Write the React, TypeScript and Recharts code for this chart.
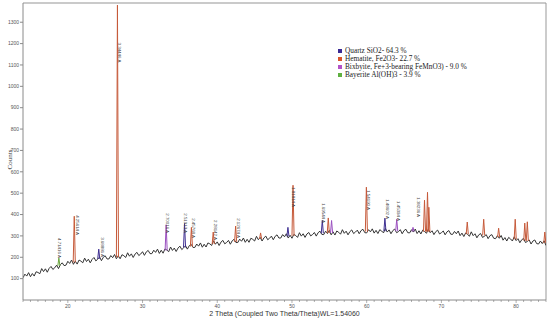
import React from 'react';
import { ComposedChart, Line, Scatter, XAxis, YAxis, ReferenceLine } from 'recharts';

// raw scan: start angle, step, counts (four steps per degree)
const scanStart = 14;
const scanStep = 0.25;
const scanCounts: number[][] = [
  [104, 121, 112, 128], [109, 124, 112, 132], [129, 123, 147, 133], [146, 130, 148, 157],
  [143, 151, 163, 147], [165, 174, 161, 163], [181, 171, 187, 167], [182, 168, 187, 182],
  [174, 196, 180, 191], [174, 190, 199, 183], [191, 201, 184, 200], [207, 192, 192, 208],
  [198, 213, 193, 207], [193, 212, 207, 199], [221, 205, 216, 199], [215, 223, 208, 215],
  [226, 209, 225, 232], [217, 217, 233, 223], [238, 218, 233, 219], [239, 234, 226, 248],
  [232, 243, 227, 243], [252, 236, 244, 254], [238, 254, 261, 246], [246, 262, 252, 267],
  [247, 261, 248, 267], [263, 255, 277, 261], [272, 255, 271, 279], [263, 269, 279, 261],
  [277, 284, 269, 269], [285, 275, 290, 270], [284, 270, 289, 284], [276, 298, 282, 293],
  [276, 291, 299, 282], [289, 299, 282, 298], [305, 290, 290, 306], [296, 310, 290, 303],
  [289, 307, 302, 293], [315, 299, 310, 293], [309, 316, 300, 306], [316, 299, 315, 322],
  [307, 306, 322, 311], [326, 305, 319, 304], [323, 317, 308, 329], [312, 322, 305, 320],
  [328, 311, 318, 327], [310, 325, 331, 315], [314, 329, 319, 333], [313, 326, 311, 329],
  [323, 314, 335, 318], [328, 310, 325, 332], [315, 320, 329, 310], [325, 331, 315, 314],
  [329, 318, 332, 311], [324, 309, 327, 321], [312, 332, 315, 324], [306, 320, 327, 309],
  [315, 323, 305, 319], [325, 308, 307, 321], [310, 323, 301, 313], [297, 314, 308, 298],
  [319, 301, 310, 291], [305, 311, 293, 298], [306, 287, 301, 306], [289, 287, 301, 289],
  [302, 280, 292, 276], [293, 286, 276, 296], [278, 287, 268, 282], [288, 269, 274, 281],
  [262, 276, 281, 264], [262, 276, 264, 277], [255, 263],
];

// reflections: position (2θ), top counts, foot counts, phase
const peakTheta = [18.8, 20.86, 24.14, 26.64, 33.16, 35.62, 36.54, 39.46, 42.46, 45.8, 49.46, 50.14, 54.06, 54.86, 55.3, 59.96, 62.44, 64.02, 66.2, 67.74, 68.14, 68.32, 73.46, 75.66, 77.66, 79.88, 81.16, 81.5, 83.84];
const peakTop = [196, 392, 238, 1380, 352, 358, 340, 318, 346, 314, 340, 537, 372, 384, 372, 528, 383, 378, 340, 467, 504, 434, 365, 378, 336, 378, 360, 366, 318];
const peakFoot = [160, 176, 192, 200, 232, 246, 250, 262, 272, 286, 298, 300, 312, 313, 314, 320, 322, 322, 320, 320, 320, 320, 308, 302, 294, 284, 278, 276, 266];
const peakPhase = ['Bayerite', 'Hematite', 'Quartz', 'Hematite', 'Bixbyite', 'Quartz', 'Hematite', 'Hematite', 'Hematite', 'Hematite', 'Quartz', 'Hematite', 'Quartz', 'Hematite', 'Bixbyite', 'Hematite', 'Quartz', 'Bixbyite', 'Bixbyite', 'Hematite', 'Hematite', 'Hematite', 'Hematite', 'Hematite', 'Hematite', 'Hematite', 'Hematite', 'Hematite', 'Hematite'];

// d-spacing labels
const labelText = ['4.71416 A', '4.25614 A', '3.68886 A', '3.34446 A', '2.70016 A', '2.51913 A', '2.45768 A', '2.28142 A', '2.12674 A', '1.81814 A', '1.69544 A', '1.54190 A', '1.48602 A', '1.45394 A', '1.38236 A'];
const labelTheta = [18.67, 21.07, 24.4, 26.73, 33.2, 35.6, 36.6, 39.5, 42.67, 50.0, 54.0, 60.0, 62.53, 64.0, 66.8];
const labelCount = [290, 397, 294, 1205, 406, 406, 383, 374, 383, 528, 453, 514, 472, 463, 481];

const phaseNames = ['Quartz SiO2- 64.3 %', 'Hematite, Fe2O3- 22.7 %', 'Bixbyite, Fe+3-bearing FeMnO3) - 9.0 %', 'Bayerite Al(OH)3 - 3.9 %'];
const phaseKeys = ['Quartz', 'Hematite', 'Bixbyite', 'Bayerite'];

const xMinorTicks = [14, 15, 16, 17, 18, 19, 20, 21, 22, 23, 24, 25, 26, 27, 28, 29, 30, 31, 32, 33, 34, 35, 36, 37, 38, 39, 40, 41, 42, 43, 44, 45, 46, 47, 48, 49, 50, 51, 52, 53, 54, 55, 56, 57, 58, 59, 60, 61, 62, 63, 64, 65, 66, 67, 68, 69, 70, 71, 72, 73, 74, 75, 76, 77, 78, 79, 80, 81, 82, 83, 84];
const xTickLabels = [20, 30, 40, 50, 60, 70, 80];
const yTicks = [100, 200, 300, 400, 500, 600, 700, 800, 900, 1000, 1100, 1200, 1300];

const phaseColors: Record<string, string> = {
  Quartz: '#3e2f92',
  Hematite: '#c65a3a',
  Bixbyite: '#9a4fc0',
  Bayerite: '#6aa63c',
};
const legendColors = ['#3a2a94', '#d9542b', '#b352c8', '#5fb040'];

const scanData = scanCounts.flatMap((row, i) =>
  row.map((c, j) => ({ theta: scanStart + i + j * scanStep, counts: c }))
);

const PEAK_HALF = 0.14;
const peaks = peakTheta.map((t, i) => ({
  phase: peakPhase[i],
  points: [
    { theta: t - PEAK_HALF, counts: peakFoot[i] },
    { theta: t, counts: peakTop[i] },
    { theta: t + PEAK_HALF, counts: peakFoot[i] },
  ],
}));

const labelData = labelText.map((text, i) => ({ theta: labelTheta[i], counts: labelCount[i], text }));

const renderXTick = (props: any) => {
  const { x, y, payload } = props;
  const major = xTickLabels.includes(payload.value);
  return (
    <g>
      <line x1={x} x2={x} y1={y} y2={y + (major ? 3 : 2)} stroke="#7a7a7a" strokeWidth={0.6} />
      {major && (
        <text x={x} y={y + 8} textAnchor="middle" fontSize={5} fill="#555" fontFamily="Liberation Sans">
          {payload.value}
        </text>
      )}
    </g>
  );
};

const renderLabel = (props: any) => {
  const { cx, cy, payload } = props;
  return (
    <text x={cx} y={cy} transform={`rotate(90 ${cx} ${cy})`} fontSize={4.4} fill="#444" fontFamily="Liberation Sans">
      {payload.text}
    </text>
  );
};

export default function App() {
  return (
    <div style={{ position: 'absolute', left: 0, top: 0, width: 550, height: 318, background: '#fff' }}>
      <ComposedChart width={550} height={318} margin={{ top: 3, right: 4, left: 0, bottom: 0 }}>
        <XAxis
          type="number"
          dataKey="theta"
          domain={[14, 84]}
          allowDataOverflow
          ticks={xMinorTicks}
          interval={0}
          tick={renderXTick}
          tickLine={false}
          tickSize={0}
          tickMargin={0}
          height={18}
          stroke="#8a8a8a"
          label={{ value: '2 Theta (Coupled Two Theta/Theta)WL=1.54060', position: 'insideBottom', offset: 2, fontSize: 7, fill: '#333', fontFamily: 'Liberation Sans' }}
        />
        <YAxis
          type="number"
          domain={[0, 1390]}
          allowDataOverflow
          ticks={yTicks}
          interval={0}
          width={23}
          tickSize={3}
          tickMargin={1}
          stroke="#8a8a8a"
          tick={{ fontSize: 5, fill: '#555', fontFamily: 'Liberation Sans' }}
          label={{ value: 'Counts', angle: -90, position: 'center', dx: -2, dy: 8, fontSize: 7, fill: '#333', fontFamily: 'Liberation Serif' }}
        />
        <ReferenceLine y={1390} stroke="#b8b8b8" strokeWidth={1.5} />
        <ReferenceLine x={84} stroke="#999" strokeWidth={1} />
        <Line data={scanData} dataKey="counts" stroke="#333" strokeWidth={1} dot={false} isAnimationActive={false} />
        {peaks.map((p, i) => (
          <Line
            key={i}
            data={p.points}
            dataKey="counts"
            stroke={phaseColors[p.phase]}
            strokeWidth={1}
            dot={false}
            isAnimationActive={false}
          />
        ))}
        <Scatter data={labelData} dataKey="counts" shape={renderLabel} isAnimationActive={false} />
      </ComposedChart>
      <div style={{ position: 'absolute', left: 338, top: 47, fontFamily: 'Liberation Serif', fontSize: 7.3, color: '#222', lineHeight: '8px' }}>
        {phaseNames.map((name, i) => (
          <div key={phaseKeys[i]} style={{ display: 'flex', alignItems: 'center', whiteSpace: 'nowrap' }}>
            <span style={{ display: 'inline-block', width: 4, height: 4, background: legendColors[i], marginRight: 3 }} />
            {name}
          </div>
        ))}
      </div>
    </div>
  );
}
